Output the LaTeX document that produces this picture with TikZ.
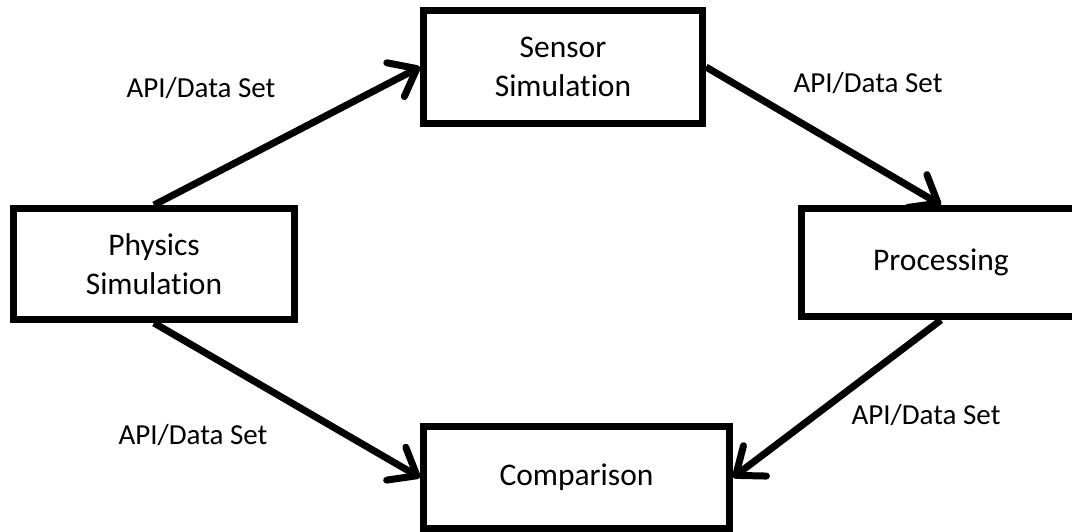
\documentclass[tikz,border=0pt]{standalone}
\usepackage{fontspec}
\setmainfont{Carlito}[Ligatures=NoCommon]
\usetikzlibrary{arrows.meta}

\begin{document}
\begin{tikzpicture}[x=1pt,y=-1pt,
    box/.style={draw=black,line width=7pt,fill=white,align=center,inner sep=0pt,font=\fontsize{31.5}{38.5}\selectfont},
    lbl/.style={font=\fontsize{29}{35}\selectfont},
    flow/.style={-{Straight Barb[length=24pt,width=38pt,line cap=round,line join=round]},line width=7pt}]
  \useasboundingbox (0,0) rectangle (1072,532);
  \clip (0,0) rectangle (1072,532);
  \node[box,minimum width=281pt,minimum height=111pt] (phys) at (154,264) {Physics\\Simulation};
  \node[box,minimum width=279pt,minimum height=113pt] (sens) at (563,67) {Sensor\\Simulation};
  \node[box,minimum width=279pt,minimum height=108pt] (proc) at (941,262.5) {Processing};
  \node[box,minimum width=306pt,minimum height=102pt] (comp) at (576.5,477.5) {Comparison};
  \draw[flow] (phys.north) -- (sens.west);
  \draw[flow] (sens.east) -- (proc.north);
  \draw[flow] (phys.south) -- (comp.west);
  \draw[flow] (proc.south) -- (comp.east);
  \node[lbl] (l1) at (201,88) {API/Data Set};
  \node[lbl] (l2) at (868,83) {API/Data Set};
  \node[lbl] (l3) at (193,435) {API/Data Set};
  \node[lbl] (l4) at (926,415) {API/Data Set};
\end{tikzpicture}
\end{document}
